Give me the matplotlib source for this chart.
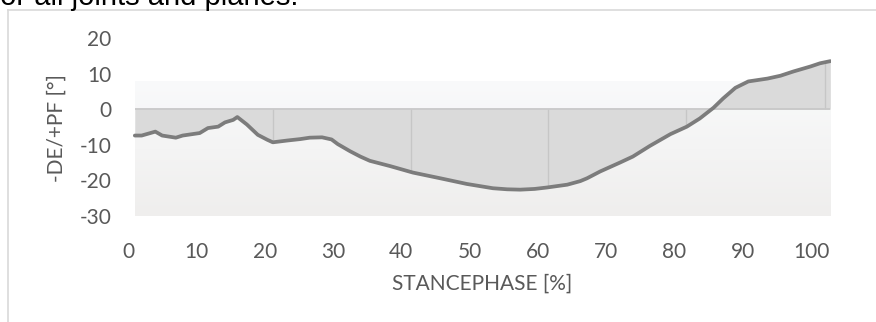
import numpy as np
import matplotlib
matplotlib.use('Agg')
from matplotlib import pyplot as plt
from matplotlib.colors import LinearSegmentedColormap
from matplotlib.lines import Line2D

# stance phase [%] and ankle angle [deg]
stance = [1, 2, 4, 5, 7, 8, 10.5, 11.7, 13.2, 14.2, 15.4, 16, 17.4, 19, 20.4,
          21.2, 23.3, 25.2, 26.6, 28.4, 29.8, 30.7, 32.5, 34, 35.4, 38.4, 41.7,
          45.7, 49.6, 53.4, 55.5, 57.4, 59.5, 61.3, 64.3, 66.2, 67.2, 69.1, 72,
          73.9, 76.4, 79.4, 81.8, 83.7, 85.7, 87.1, 88.9, 90.8, 93.6, 95.5,
          97.4, 99.9, 101.3, 102.8]
angle = [-7.4, -7.4, -6.3, -7.4, -8.0, -7.4, -6.7, -5.3, -4.9, -3.7, -3.0,
         -2.2, -4.3, -7.2, -8.6, -9.3, -8.8, -8.4, -8.0, -7.9, -8.5, -9.8,
         -11.8, -13.3, -14.5, -16.0, -17.8, -19.4, -21.0, -22.2, -22.5, -22.6,
         -22.4, -22.0, -21.2, -20.2, -19.4, -17.5, -15.0, -13.3, -10.3, -7.0,
         -4.9, -2.6, 0.4, 3.0, 6.0, 7.8, 8.6, 9.4, 10.6, 12.0, 12.9, 13.5]
drop_x = [21.2, 41.4, 61.5, 81.7, 102.0]
xticks = list(range(0, 101, 10))
yticks = [-30, -20, -10, 0, 10, 20]

plt.rcParams['font.family'] = ['Lato', 'DejaVu Sans']
plt.rcParams['axes.unicode_minus'] = False
txt = '#595959'

fig = plt.figure(figsize=(8.76, 3.22), dpi=100)
ax = fig.add_axes([128 / 876, 1 - 216 / 322, 703 / 876, 178 / 322])
ax.set_xlim(0, 102.9)
ax.set_ylim(-30, 20)

# plot area gradient
grad = LinearSegmentedColormap.from_list('g', ['#efeeed', '#f9fafb'])
ax.imshow(np.linspace(0, 1, 256).reshape(-1, 1), cmap=grad, aspect='auto',
          extent=[stance[0], stance[-1], -30, 7.7], origin='lower', zorder=0)

ax.fill_between(stance, angle, 0, color='#dadada', lw=0, zorder=1)
ax.vlines(drop_x, 0, np.interp(drop_x, stance, angle), color='#c6c6c6',
          lw=1, zorder=2)
ax.hlines(0, stance[0], stance[-1], color='#c8c8c8', lw=1.3, zorder=2)
ax.plot(stance, angle, color='#7c7c7c', lw=2.7, solid_capstyle='round',
        solid_joinstyle='round', zorder=3)

for s in ax.spines.values():
    s.set_visible(False)
ax.set_xticks(xticks)
ax.set_yticks(yticks)
ax.tick_params(length=0, labelsize=15, labelcolor=txt)
ax.tick_params(axis='y', pad=12)
ax.tick_params(axis='x', pad=19)

fig.text(57 / 876, 1 - 128 / 322, '-DE/+PF [°]', rotation=90, ha='center',
         va='center', fontsize=15, color=txt)
fig.text(482 / 876, 1 - 284 / 322, 'STANCEPHASE [%]', ha='center',
         va='center', fontsize=15, color=txt)

# surrounding frame and cut-off document text
fig.add_artist(Line2D([8 / 876, 1], [1 - 10 / 322] * 2, color='#d9d9d9',
                      lw=1.2))
fig.add_artist(Line2D([8 / 876] * 2, [0, 1 - 10 / 322], color='#d9d9d9',
                      lw=1.2))
fig.text(-8 / 876, 1 - 5 / 322, 'for all joints and planes.',
         family='Liberation Sans', fontsize=21, color='black', va='baseline')

fig.savefig('out.png', dpi=100)
